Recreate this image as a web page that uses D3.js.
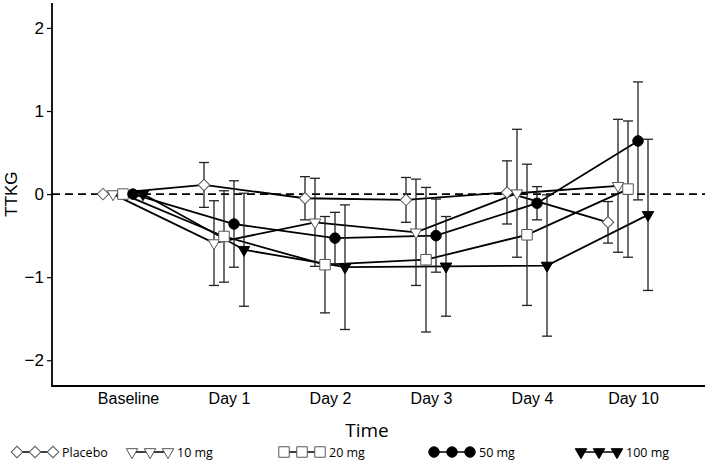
<!DOCTYPE html>
<html><head><meta charset="utf-8">
<script src="https://cdn.jsdelivr.net/npm/d3@7"></script>
<style>body{margin:0;background:#fff}svg{display:block;font-family:"Liberation Sans",Arial,sans-serif}</style>
</head><body><svg id="c" width="709" height="464"></svg>
<script>
const categories = ["Baseline","Day 1","Day 2","Day 3","Day 4","Day 10"];
const seriesNames = ["Placebo","10 mg","20 mg","50 mg","100 mg"];
const placeboMean = [0, 0.11, -0.05, -0.07, 0.02, -0.34];
const placeboErr  = [0, 0.27, 0.26, 0.27, 0.38, 0.25];
const mg10Mean = [0, -0.59, -0.34, -0.46, 0.01, 0.10];
const mg10Err  = [0, 0.51, 0.53, 0.64, 0.77, 0.80];
const mg20Mean = [0, -0.51, -0.85, -0.79, -0.49, 0.06];
const mg20Err  = [0, 0.55, 0.58, 0.87, 0.85, 0.82];
const mg50Mean = [0, -0.36, -0.53, -0.50, -0.11, 0.64];
const mg50Err  = [0, 0.52, 0.31, 0.44, 0.20, 0.71];
const mg100Mean = [0, -0.67, -0.88, -0.87, -0.86, -0.25];
const mg100Err  = [0, 0.68, 0.75, 0.60, 0.85, 0.91];
const yTicks = [-2, -1, 0, 1, 2];

(function () {
const series = [
  {name: seriesNames[0], mean: placeboMean, err: placeboErr, shape: "diamond", fill: "#fff", stroke: "#555"},
  {name: seriesNames[1], mean: mg10Mean, err: mg10Err, shape: "tridown", fill: "#fff", stroke: "#555"},
  {name: seriesNames[2], mean: mg20Mean, err: mg20Err, shape: "square", fill: "#fff", stroke: "#555"},
  {name: seriesNames[3], mean: mg50Mean, err: mg50Err, shape: "circle", fill: "#000", stroke: "#000"},
  {name: seriesNames[4], mean: mg100Mean, err: mg100Err, shape: "tridown", fill: "#000", stroke: "#000"}
];
const offsets = [-25, -15, -5, 5, 15];

const svg = d3.select("#c");
const mLeft = 52, mRight = 705, mTop = 3, mBottom = 386;
const x = d3.scalePoint().domain(categories).range([128, 633]);
const y = d3.scaleLinear().domain([-2.31, 2.3]).range([mBottom, mTop]);

function symPath(shape, s) {
  if (shape === "diamond") return d3.symbol(d3.symbolSquare, s*s*0.5)();
  if (shape === "tridown") return d3.symbol(d3.symbolTriangle, s*s*0.433)();
  if (shape === "square") return d3.symbol(d3.symbolSquare, s*s)();
  return d3.symbol(d3.symbolCircle, Math.PI*s*s/4)();
}
function symTransform(shape, cx, cy) {
  if (shape === "diamond") return `translate(${cx},${cy}) rotate(45)`;
  if (shape === "tridown") return `translate(${cx},${cy}) rotate(180)`;
  return `translate(${cx},${cy})`;
}
const markerSize = {diamond: 11.5, tridown: 11.5, square: 10.5, circle: 10.5};

svg.append("line").attr("x1", mLeft).attr("x2", mRight).attr("y1", y(0)).attr("y2", y(0))
  .attr("stroke", "#000").attr("stroke-width", 1.6).attr("stroke-dasharray", "8,5");

const yAxis = d3.axisLeft(y).tickValues(yTicks).tickSize(5).tickPadding(3).tickFormat(d3.format("d"));
const gy = svg.append("g").attr("transform", `translate(${mLeft},0)`).call(yAxis);
gy.select(".domain").remove();
gy.selectAll(".tick line").attr("stroke", "#000").attr("stroke-width", 1.2);
gy.selectAll(".tick text").attr("font-size", 17).attr("fill", "#000")
  .attr("font-family", "'Liberation Sans',Arial,sans-serif");
svg.append("line").attr("x1", mLeft).attr("x2", mLeft).attr("y1", mTop).attr("y2", mBottom + 1)
  .attr("stroke", "#000").attr("stroke-width", 1.8);
svg.append("line").attr("x1", mLeft).attr("x2", mRight).attr("y1", mBottom).attr("y2", mBottom)
  .attr("stroke", "#000").attr("stroke-width", 1.8);

const xAxis = d3.axisBottom(x).tickSize(0).tickPadding(7);
const gx = svg.append("g").attr("transform", `translate(0,${mBottom})`).call(xAxis);
gx.select(".domain").remove();
gx.selectAll(".tick text").attr("font-size", 16).attr("fill", "#000")
  .attr("font-family", "'Liberation Sans',Arial,sans-serif");

svg.append("text").attr("x", 367).attr("y", 437).attr("text-anchor", "middle")
  .attr("font-size", 19).attr("font-family", "'Open Sans','Liberation Sans',sans-serif").text("Time");
svg.append("text").attr("transform", `translate(17,${y(0)}) rotate(-90)`).attr("text-anchor", "middle")
  .attr("font-size", 17).text("TTKG");

const line = d3.line().x(d => d[0]).y(d => d[1]);
series.forEach((s, i) => {
  const pts = categories.map((c, j) => [x(c) + offsets[i], y(s.mean[j])]);
  svg.append("path").attr("d", line(pts)).attr("fill", "none").attr("stroke", "#000").attr("stroke-width", 1.8);
});
series.forEach((s, i) => {
  categories.forEach((c, j) => {
    if (!s.err[j]) return;
    const cx = x(c) + offsets[i];
    const y1 = y(s.mean[j] + s.err[j]), y2 = y(s.mean[j] - s.err[j]);
    const g = svg.append("g").attr("stroke", "#222").attr("stroke-width", 1.3);
    g.append("line").attr("x1", cx).attr("x2", cx).attr("y1", y1).attr("y2", y2);
    g.append("line").attr("x1", cx - 5).attr("x2", cx + 5).attr("y1", y1).attr("y2", y1);
    g.append("line").attr("x1", cx - 5).attr("x2", cx + 5).attr("y1", y2).attr("y2", y2);
  });
});
series.forEach((s, i) => {
  categories.forEach((c, j) => {
    const cx = x(c) + offsets[i], cy = y(s.mean[j]);
    svg.append("path").attr("d", symPath(s.shape, markerSize[s.shape]))
      .attr("transform", symTransform(s.shape, cx, cy))
      .attr("fill", s.fill).attr("stroke", s.stroke).attr("stroke-width", 1);
  });
});

const legendX = [13, 128, 280, 430, 577];
const legY = 452;
series.forEach((s, i) => {
  const g = svg.append("g").attr("transform", `translate(${legendX[i]},${legY})`);
  g.append("line").attr("x1", 0).attr("x2", 44).attr("y1", 0).attr("y2", 0).attr("stroke", "#000").attr("stroke-width", 1.3);
  [4, 22, 40].forEach(px => {
    g.append("path").attr("d", symPath(s.shape, markerSize[s.shape]))
      .attr("transform", symTransform(s.shape, px, 0))
      .attr("fill", s.fill).attr("stroke", s.stroke).attr("stroke-width", 1);
  });
  g.append("text").attr("x", 49).attr("y", 4.5).attr("font-size", 12.5)
    .attr("font-family", "'Open Sans','Liberation Sans',sans-serif").text(s.name);
});
})();
</script></body></html>
